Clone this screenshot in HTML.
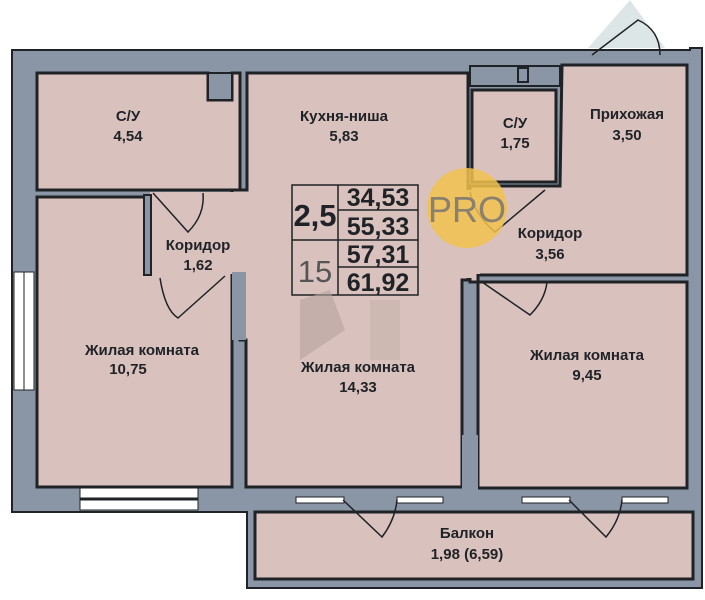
<!DOCTYPE html>
<html><head><meta charset="utf-8"><style>
body{margin:0;background:#fff;}
svg{display:block}
text{font-family:"Liberation Sans",sans-serif;font-weight:bold;fill:#1f2226;text-anchor:middle}
</style></head><body>
<svg width="705" height="600" viewBox="0 0 705 600" xmlns="http://www.w3.org/2000/svg">
<polygon points="588,48 630,0 665,48" fill="#dde6e6"/>
<polygon points="12,50 690,50 690,48 702,48 702,588 247,588 247,512 12,512" fill="#8a95a6" stroke="#1f2226" stroke-width="2"/>
<g fill="#d9c1bd" stroke="#1f2226" stroke-width="3">
<rect x="255" y="512" width="438" height="67"/>
<polygon points="37,73 208,73 208,100 232,100 232,73 240,73 240,190 37,190"/>
<rect x="37" y="197" width="195" height="290"/>
<polygon points="247,73 468,73 468,280 462,280 462,487 246,487 246,340 240,340 240,275 232,275 232,190 247,190"/>
<rect x="472" y="90" width="84" height="92"/>
<polygon points="562,65 687,65 687,275 478,275 478,282 470,282 470,186 560,186"/>
<rect x="478" y="282" width="209" height="206"/>
</g>
<!-- corridor 1.62 -->
<rect x="150" y="192" width="92" height="82" fill="#d9c1bd"/>
<rect x="144" y="195" width="7" height="80" fill="#8a95a6" stroke="#1f2226" stroke-width="2"/>
<!-- open kitchen to corridor 3.56 -->
<rect x="460" y="190" width="14" height="88" fill="#d9c1bd"/>
<rect x="470" y="190" width="10" height="84" fill="#d9c1bd"/>
<rect x="470" y="66" width="90" height="20" fill="#8a95a6" stroke="#1f2226" stroke-width="2"/>
<rect x="518" y="68" width="10" height="14" fill="none" stroke="#1f2226" stroke-width="2"/>
<rect x="232" y="272" width="14" height="68" fill="#8a95a6"/>
<rect x="462" y="435" width="16" height="55" fill="#8a95a6"/>
<rect x="208" y="73" width="24" height="27" fill="#8a95a6" stroke="#1f2226" stroke-width="2"/>
<rect x="14" y="272" width="20" height="118" fill="#fff" stroke="#1f2226" stroke-width="1"/>
<line x1="24" y1="272" x2="24" y2="390" stroke="#1f2226"/>
<rect x="80" y="488" width="118" height="22" fill="#fff" stroke="#1f2226" stroke-width="1"/>
<line x1="80" y1="499" x2="198" y2="499" stroke="#1f2226" stroke-width="3"/>
<g fill="#fff" stroke="#1f2226" stroke-width="1">
<rect x="296" y="497" width="48" height="6"/><rect x="397" y="497" width="46" height="6"/>
<rect x="522" y="497" width="48" height="6"/><rect x="622" y="497" width="46" height="6"/>
</g>
<g fill="none" stroke="#1f2226" stroke-width="1.5">
<path d="M153,193 L188,232 Q205,215 203,193"/>
<path d="M160,278 Q165,310 178,318 L225,276"/>
<path d="M343,500 L382,537 Q395,520 397,500"/>
<path d="M569,500 L606,537 Q620,520 622,500"/>
<path d="M545,190 L495,232 Q475,215 470,192"/>
<path d="M482,282 L530,315 Q545,300 547,282"/>
<path d="M592,55 L638,20 Q660,30 660,55"/>
</g>
<g fill="none" stroke="#1f2226" stroke-width="1.5">
<rect x="292" y="185" width="126" height="110"/>
<line x1="338" y1="185" x2="338" y2="295"/>
<line x1="338" y1="210" x2="418" y2="210"/>
<line x1="292" y1="240" x2="418" y2="240"/>
<line x1="338" y1="267" x2="418" y2="267"/>
</g>
<polygon points="300,300 330,290 345,330 300,360" fill="#b8a49c" opacity="0.6"/>
<rect x="370" y="300" width="30" height="60" fill="#c7b2aa" opacity="0.6"/>
<text x="315" y="226" font-size="31">2,5</text>
<text x="315" y="282" font-size="31" style="font-weight:normal;fill:#555">15</text>
<text x="378" y="206" font-size="25">34,53</text>
<text x="378" y="235" font-size="25">55,33</text>
<text x="378" y="263" font-size="25">57,31</text>
<text x="378" y="291" font-size="25">61,92</text>
<circle cx="467" cy="208" r="40" fill="#f1c24e" opacity="0.85"/>
<text x="467" y="222" font-size="36" style="font-weight:normal;fill:#8a8070">PRO</text>
<g font-size="15">
<text x="128" y="121">С/У</text><text x="128" y="141">4,54</text>
<text x="344" y="121">Кухня-ниша</text><text x="344" y="141">5,83</text>
<text x="515" y="128">С/У</text><text x="515" y="148">1,75</text>
<text x="627" y="119">Прихожая</text><text x="627" y="140">3,50</text>
<text x="198" y="250">Коридор</text><text x="198" y="270">1,62</text>
<text x="550" y="238">Коридор</text><text x="550" y="259">3,56</text>
<text x="142" y="355">Жилая комната</text><text x="128" y="374">10,75</text>
<text x="358" y="372">Жилая комната</text><text x="358" y="392">14,33</text>
<text x="587" y="360">Жилая комната</text><text x="587" y="380">9,45</text>
<text x="467" y="538">Балкон</text><text x="467" y="559">1,98 (6,59)</text>
</g>
</svg>
</body></html>
